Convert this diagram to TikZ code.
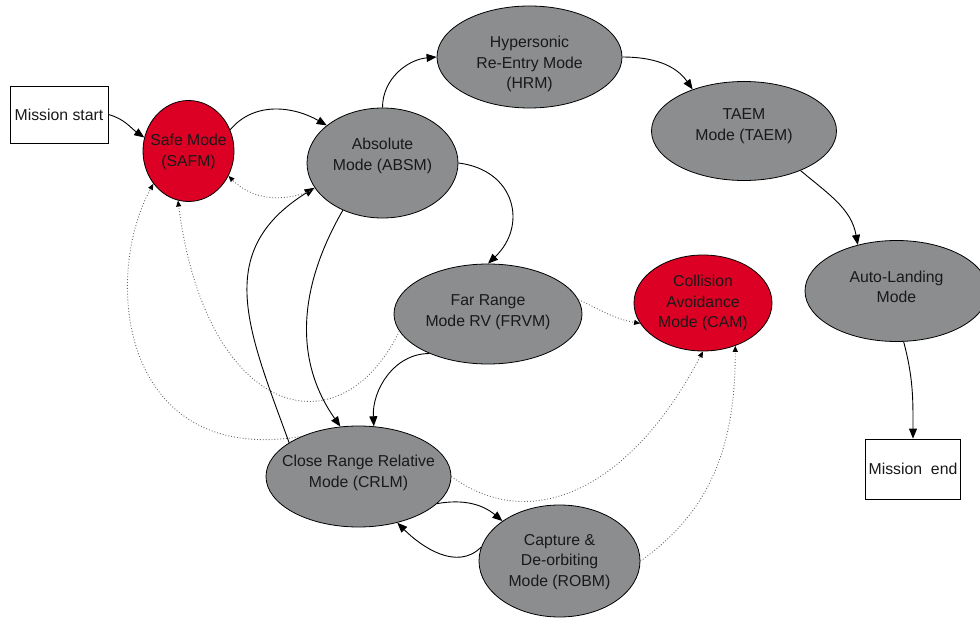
\documentclass[tikz,border=0pt]{standalone}
\usepackage{fontspec}
\setmainfont{Liberation Sans}
\usetikzlibrary{shapes.geometric,arrows.meta}
\definecolor{modegray}{RGB}{140,141,143}
\definecolor{modered}{RGB}{220,0,36}
\definecolor{dotgray}{RGB}{105,105,105}

\begin{document}
\begin{tikzpicture}[x=1pt,y=1pt,
  every node/.style={font=\fontsize{15.8}{20.7}\selectfont},
  mode/.style={ellipse,draw=black,line width=0.8pt,fill=modegray,inner sep=0pt},
  alert/.style={mode,fill=modered},
  modetext/.style={align=center,inner sep=0pt,text=black!90},
  endpoint/.style={rectangle,draw=black,line width=0.8pt,fill=white,inner sep=0pt,text=black!90},
  flow/.style={draw=black,line width=0.9pt,-{Triangle[length=10pt,width=8pt]}},
  fallback/.style={draw=dotgray,line width=0.9pt,dotted,-{Triangle[length=6pt,width=5pt,color=black]}},
]
\useasboundingbox (0,0) rectangle (980,-620);

% terminal boxes
\node[endpoint,minimum width=98pt,minimum height=57pt] (start) at (59,-114.5) {Mission start};
\node[endpoint,minimum width=95pt,minimum height=60pt] (mend) at (913,-469) {Mission\ \ end};

% mode ellipses
\node[alert,minimum width=91pt,minimum height=101pt] (safm) at (188.5,-151) {};
\node[mode,minimum width=151pt,minimum height=110pt] (absm) at (382.5,-163) {};
\node[mode,minimum width=185pt,minimum height=102pt] (hrm) at (529.5,-57) {};
\node[mode,minimum width=185pt,minimum height=99pt] (taem) at (744,-131) {};
\node[mode,minimum width=183pt,minimum height=101pt] (al) at (896.5,-291) {};
\node[alert,minimum width=138pt,minimum height=96pt] (cam) at (703,-303) {};
\node[mode,minimum width=188pt,minimum height=100pt] (frvm) at (488,-314) {};
\node[mode,minimum width=185pt,minimum height=101pt] (crlm) at (358.5,-476.5) {};
\node[mode,minimum width=161pt,minimum height=112pt] (robm) at (559.5,-561) {};

% mode labels
\node[modetext] (safm-t) at ([yshift=-1pt]safm) {Safe Mode\\(SAFM)};
\node[modetext] (absm-t) at ([yshift=7pt]absm) {Absolute\\Mode (ABSM)};
\node[modetext] (hrm-t) at ([yshift=-7pt]hrm) {Hypersonic\\Re-Entry Mode\\(HRM)};
\node[modetext] (taem-t) at ([yshift=5pt]taem) {TAEM\\Mode (TAEM)};
\node[modetext] (al-t) at ([yshift=4pt]al) {Auto-Landing\\Mode};
\node[modetext] (cam-t) at (cam) {Collision\\Avoidance\\Mode (CAM)};
\node[modetext] (frvm-t) at ([yshift=2pt]frvm) {Far Range\\Mode RV (FRVM)};
\node[modetext] (crlm-t) at ([yshift=3.5pt]crlm) {Close Range Relative\\Mode (CRLM)};
\node[modetext] (robm-t) at ([yshift=-1pt]robm) {Capture \&\\De-orbiting\\Mode (ROBM)};

% nominal transitions
\draw[flow] (start.east) to[out=-15,in=145] (safm.163);
\draw[flow] (safm.27) to[out=50,in=150] (absm.146);
\draw[flow] (absm.north) to[out=90,in=185] (hrm.west);
\draw[flow] (hrm.east) to[out=0,in=125] (taem.141);
\draw[flow] (taem.-35) to[out=-40,in=100] (al.130);
\draw[flow] (al.-82) to[out=-75,in=90] (mend.north);
\draw[flow] (absm.east) .. controls +(57,-7) and +(40,38) .. (frvm.north);
\draw[flow] (absm.230) to[out=240,in=125] (crlm.110);
\draw[flow] (crlm.154) to[out=110,in=212,looseness=1.2] (absm.200);
\draw[flow] (frvm.214) to[out=180,in=93] (crlm.73);
\draw[flow] (crlm.-19) to[out=10,in=140] (robm.145);
\draw[flow] (robm.170) to[out=225,in=-45] (crlm.-50);

% fallback transitions
\draw[fallback] (absm.201) to[out=205,in=-45] (safm.-32);
\draw[fallback] (frvm.191) .. controls +(-60,-123) and +(28,-217) .. (safm.-102);
\draw[fallback] (crlm.145) .. controls +(-180,-30) and +(-52,-95) .. (safm.223);
\draw[fallback] (frvm.9) to[out=-25,in=170] (cam.198);
\draw[fallback] (crlm.east) .. controls +(79,-58) and +(-73,-139) .. (cam.south);
\draw[fallback] (robm.east) to[out=35,in=-90] (cam.-53);
\end{tikzpicture}
\end{document}
